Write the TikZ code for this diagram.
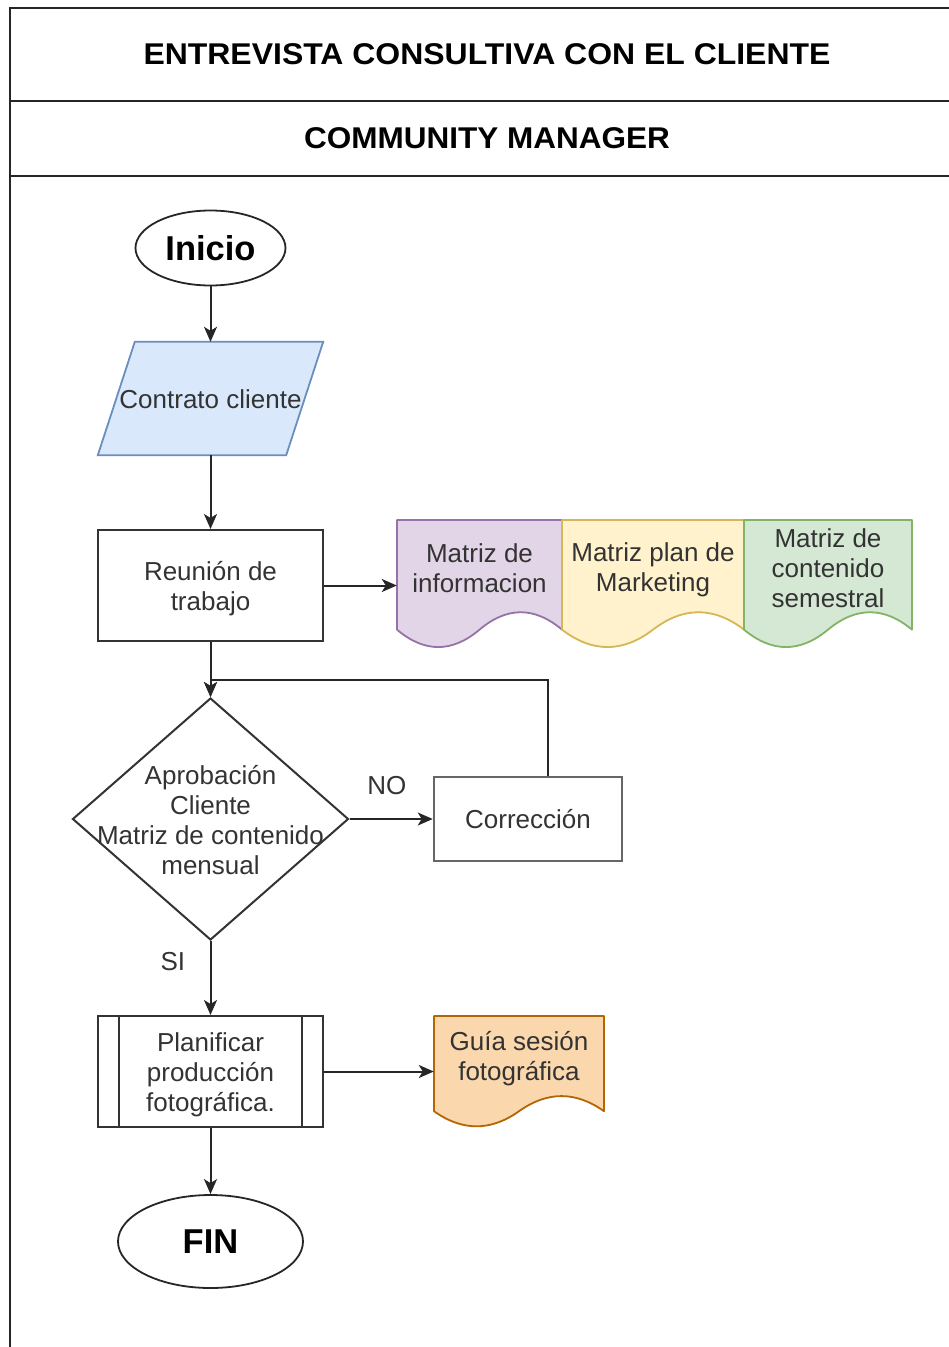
\documentclass[tikz,border=0pt]{standalone}
\usepackage{fontspec}
\setmainfont{Liberation Sans}
\usetikzlibrary{shapes.geometric,arrows.meta,calc}
\definecolor{dk}{HTML}{333333}
\definecolor{tx}{HTML}{333333}
\definecolor{grayline}{HTML}{666666}
\definecolor{bluefill}{HTML}{DAE8FC}\definecolor{bluedraw}{HTML}{6C8EBF}
\definecolor{purfill}{HTML}{E1D5E7}\definecolor{purdraw}{HTML}{9673A6}
\definecolor{yelfill}{HTML}{FFF2CC}\definecolor{yeldraw}{HTML}{D6B656}
\definecolor{grnfill}{HTML}{D5E8D4}\definecolor{grndraw}{HTML}{82B366}
\definecolor{orgfill}{HTML}{FAD7AC}\definecolor{orgdraw}{HTML}{B46504}
\newcommand{\docpath}[6]{% x y w h fill draw
  \pgfmathsetmacro\dyy{0.3*#4}%
  \pgfmathsetmacro\yone{#2+#4-0.5*\dyy}%
  \pgfmathsetmacro\yup{\yone-0.6*\dyy}%
  \pgfmathsetmacro\ydn{\yone+0.6*\dyy}%
  \pgfmathsetmacro\xr{#1+#3}%
  \pgfmathsetmacro\xm{#1+0.5*#3}%
  \pgfmathsetmacro\xa{#1+#3-#3/6}%
  \pgfmathsetmacro\xb{#1+0.5*#3+#3/6}%
  \pgfmathsetmacro\xc{#1+0.5*#3-#3/6}%
  \pgfmathsetmacro\xd{#1+#3/6}%
  \filldraw[fill=#5, draw=#6, line width=1.8pt, line join=round]
    (#1,#2) -- (\xr,#2) -- (\xr,\yone)
    .. controls (\xa,\yup) and (\xb,\yup) .. (\xm,\yone)
    .. controls (\xc,\ydn) and (\xd,\ydn) .. (#1,\yone) -- cycle;
}
\begin{document}
\begin{tikzpicture}[x=1pt,y=-1pt,
  frame/.style={line width=1.8pt, draw=black!85},
  arr/.style={line width=2pt, draw=black!85, -{Stealth[length=15pt,width=13pt,inset=4pt]}},
  txt/.style={font=\fontsize{26}{30}\selectfont, text=tx, align=center},
  title/.style={font=\fontsize{30}{34}\selectfont\bfseries, text=black},
  term/.style={ellipse, draw=black!85, line width=1.8pt, inner sep=0pt, font=\fontsize{34.5}{38}\selectfont\bfseries},
  procbox/.style={rectangle, draw=dk, line width=2pt, inner sep=0pt},
  ghost/.style={rectangle, draw=none, inner sep=0pt},
  decision/.style={diamond, draw=dk, line width=2pt, inner sep=0pt}
]
\useasboundingbox (0,0) rectangle (949,1347);
% frame
\draw[frame] (10,1347) -- (10,8) -- (949,8);
\draw[frame] (10,101) -- (949,101);
\draw[frame] (10,176) -- (949,176);
\node[title] (t1) at (487,54) {\scalebox{1.065}[1]{ENTREVISTA CONSULTIVA CON EL CLIENTE}};
\node[title] (t2) at (487,138) {\scalebox{1.05}[1]{COMMUNITY MANAGER}};

% Inicio
\node[term, minimum width=150pt, minimum height=75pt] (ini) at (210.5,248) {Inicio};

% Contrato cliente (parallelogram)
\node[ghost, minimum width=225pt, minimum height=113pt] (con) at (210.5,398.5) {};
\filldraw[fill=bluefill, draw=bluedraw, line width=1.8pt]
  (con.south west) -- ($(con.north west)+(37,0)$) -- (con.north east) -- ($(con.south east)+(-37,0)$) -- cycle;
\node[txt] at ($(con.center)+(0,1)$) {Contrato cliente};

% Reunion
\node[procbox, minimum width=225pt, minimum height=111pt] (reu) at (210.5,585.5) {};
\node[txt] at (210.5,589) {Reunión de\\trabajo};

% documents
\docpath{397}{520}{165}{129}{purfill}{purdraw}
\docpath{562}{520}{182}{129}{yelfill}{yeldraw}
\docpath{744}{520}{168}{129}{grnfill}{grndraw}
\node[ghost, minimum width=165pt, minimum height=129pt] (m1) at (479.5,584.5) {};
\node[ghost, minimum width=182pt, minimum height=129pt] (m2) at (653,584.5) {};
\node[ghost, minimum width=168pt, minimum height=129pt] (m3) at (828,584.5) {};
\node[txt] at (479.5,568) {Matriz de\\informacion};
\node[txt] at (653,570) {Matriz plan de\\Marketing};
\node[txt] at (828,568) {Matriz de\\contenido\\semestral};

% decision
\node[decision, minimum width=276pt, minimum height=242pt] (dec) at (210.5,819) {};
\node[txt] at ($(dec.center)+(0,1)$) {Aprobación\\Cliente\\Matriz de contenido\\mensual};

% Correccion
\node[rectangle, draw=grayline, line width=2.5pt, minimum width=188pt, minimum height=84pt, txt] (cor) at (528,819) {Corrección};

% Planificar
\node[procbox, minimum width=225pt, minimum height=111pt] (pla) at (210.5,1071.5) {};
\node[txt] at (210.5,1075) {Planificar\\producción\\fotográfica.};
\draw[line width=2pt, draw=dk] ($(pla.north west)+(22,0)$) -- ($(pla.south west)+(22,0)$);
\draw[line width=2pt, draw=dk] ($(pla.north east)+(-22,0)$) -- ($(pla.south east)+(-22,0)$);

% Guia
\docpath{434}{1016}{170}{112}{orgfill}{orgdraw}
\node[ghost, minimum width=170pt, minimum height=112pt] (gui) at (519,1072) {};
\node[txt] at (519,1059) {Guía sesión\\fotográfica};

% FIN
\node[term, minimum width=185pt, minimum height=93pt] (fin) at (210.5,1241.5) {FIN};

% connectors
\draw[arr] (ini) -- (con);
\draw[arr] (con) -- (reu);
\draw[arr] (reu.east) -- (reu.east -| m1.west);
\draw[arr] (reu) -- (dec.north);
\coordinate (loop) at (548,680);
\draw[arr] (cor.north -| loop) -- (loop) -- (loop -| dec.north) -- (dec.north);
\draw[arr] (dec.east) -- (cor.west) node[txt, pos=0.45, above=-2pt, yshift=22pt] {NO};
\draw[arr] (dec.south) -- (pla.north) node[txt, pos=0.28, left=21pt] {SI};
\draw[arr] (pla.east) -- (pla.east -| gui.west);
\draw[arr] (pla) -- (fin);
\end{tikzpicture}
\end{document}
